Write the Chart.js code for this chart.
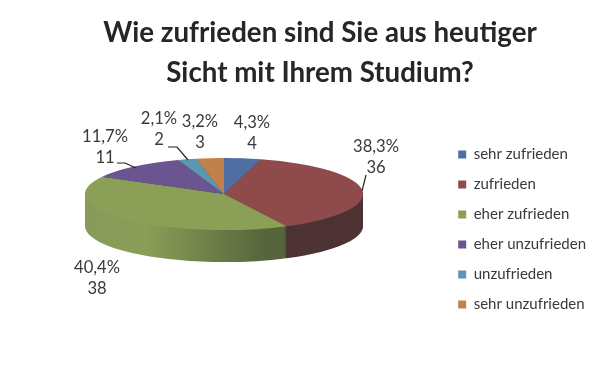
<!DOCTYPE html>
<html>
<head>
<meta charset="utf-8">
<script src="https://cdn.jsdelivr.net/npm/chart.js@4"></script>
<style>
  html, body { margin: 0; padding: 0; background: #fff; }
  canvas { display: block; }
</style>
</head>
<body>
<canvas id="myPieChart" width="600" height="367"></canvas>
<script>
const categories = ["sehr zufrieden", "zufrieden", "eher zufrieden", "eher unzufrieden", "unzufrieden", "sehr unzufrieden"];
const counts = [4, 36, 38, 11, 2, 3];
const percents = ["4,3%", "38,3%", "40,4%", "11,7%", "2,1%", "3,2%"];

const colors = ["#4f6fa3", "#8f4a4c", "#8ba056", "#6a5590", "#5b97ae", "#c2814a"];

// look of the tilted pie
const pieX = 224, pieY = 194, radius = 139, squash = 36 / 139, depth = 32;

// label centres
const labelSpots = [[252, 123], [376, 147], [97, 268], [105, 137], [159, 119], [200, 122]];
const leaders = [
  [[117, 163], [125, 163], [136, 168]],
  [[168, 147], [177, 147], [188, 160]],
  [[366, 175], [362, 191]]
];

function tilt(ctx, arc, dy) {
  ctx.translate(pieX, pieY + dy);
  ctx.scale(1, squash);
  ctx.translate(-arc.x, -arc.y);
}

const tiltPlugin = {
  id: "tilt",
  beforeDatasetsDraw(chart) {
    const ctx = chart.ctx;
    const arcs = chart.getDatasetMeta(0).data;

    const greenWall = ctx.createLinearGradient(pieX - radius, 0, pieX + 63, 0);
    greenWall.addColorStop(0, "#87995a");
    greenWall.addColorStop(0.4, "#8a9e58");
    greenWall.addColorStop(1, "#55643a");
    const wallColors = ["#3d4d66", "#4e3334", greenWall, "#44375a", "#3a5f6e", "#7a5230"];

    for (let dy = depth; dy >= 1; dy--) {
      arcs.forEach((arc, i) => {
        const saved = arc.options;
        arc.options = Object.assign({}, saved, { backgroundColor: wallColors[i] });
        ctx.save();
        tilt(ctx, arc, dy);
        arc.draw(ctx);
        ctx.restore();
        arc.options = saved;
      });
    }
    ctx.save();
    tilt(ctx, arcs[0], 0);
  },
  afterDatasetsDraw(chart) {
    chart.ctx.restore();
  },
  afterDraw(chart) {
    const ctx = chart.ctx;
    ctx.save();
    ctx.strokeStyle = "#222";
    ctx.lineWidth = 1.2;
    leaders.forEach(pts => {
      ctx.beginPath();
      pts.forEach((p, i) => i ? ctx.lineTo(p[0], p[1]) : ctx.moveTo(p[0], p[1]));
      ctx.stroke();
    });
    ctx.fillStyle = "#3a3a3a";
    ctx.font = "16.6px Lato";
    ctx.textAlign = "center";
    ctx.textBaseline = "middle";
    counts.forEach((n, i) => {
      const [x, y] = labelSpots[i];
      ctx.fillText(percents[i], x, y);
      ctx.fillText(n, x, y + 21);
    });
    ctx.restore();
  }
};

const data = {
  labels: categories,
  datasets: [{
    data: counts,
    backgroundColor: colors,
    borderWidth: 0,
    radius: radius,
    clip: false
  }]
};

const config = {
  type: "pie",
  data: data,
  options: {
    responsive: false,
    animation: false,
    layout: { padding: { left: 44, right: 4 } },
    plugins: {
      title: {
        display: true,
        text: ["Wie zufrieden sind Sie aus heutiger", "Sicht mit Ihrem Studium?"],
        color: "#262626",
        font: { family: "Lato", size: 27.7, weight: "bold", lineHeight: 1.41 },
        padding: { top: 14, bottom: 0 }
      },
      legend: {
        position: "right",
        fullSize: false,
        labels: {
          boxWidth: 8,
          boxHeight: 8,
          padding: 15,
          color: "#3a3a3a",
          font: { family: "Lato", size: 15 }
        }
      },
      tooltip: { enabled: false }
    }
  },
  plugins: [tiltPlugin]
};

const ctx = document.getElementById("myPieChart").getContext("2d");
const myPieChart = new Chart(ctx, config);
</script>
</body>
</html>
